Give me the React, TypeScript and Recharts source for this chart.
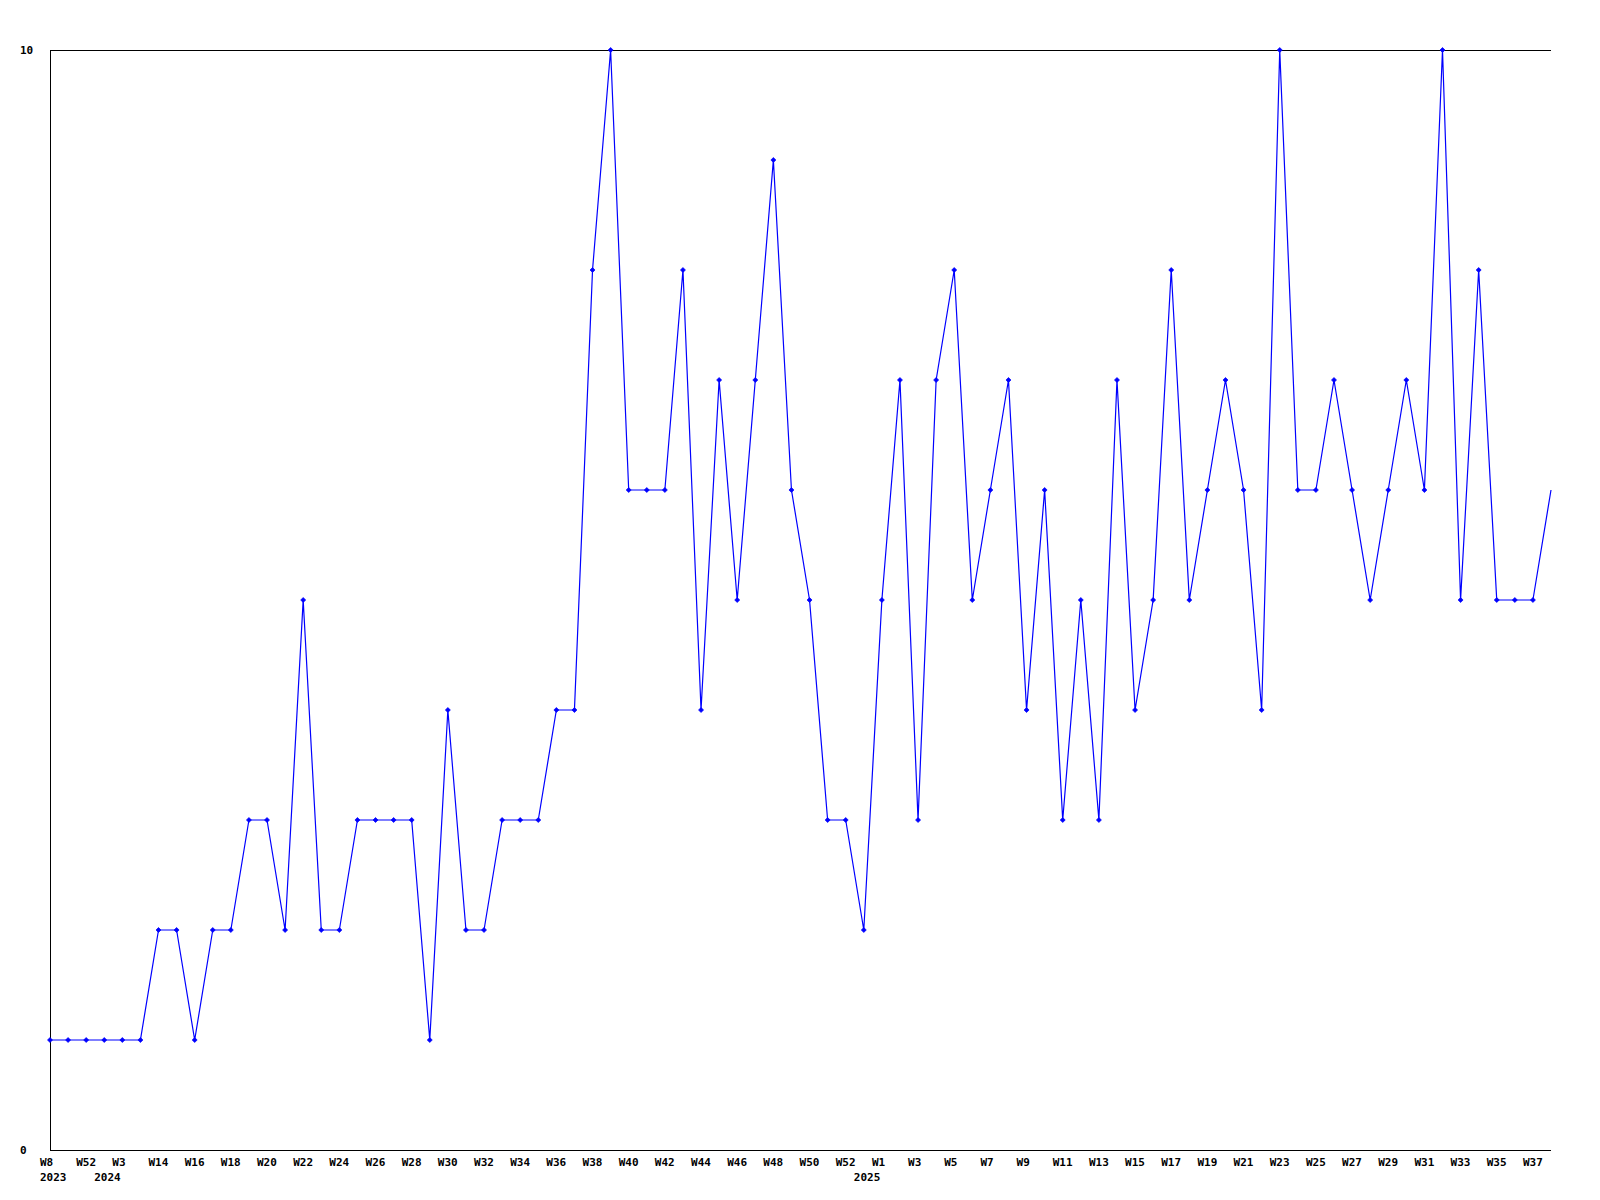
import React from "react";
import { LineChart, Line, XAxis, YAxis, ReferenceLine } from "recharts";

// Week labels for every point (only even positions are printed on the axis)
const weeks: string[] = [
  "W8", "W51", "W52", "W2", "W3", "W13", "W14", "W15", "W16", "W17",
  "W18", "W19", "W20", "W21", "W22", "W23", "W24", "W25", "W26", "W27",
  "W28", "W29", "W30", "W31", "W32", "W33", "W34", "W35", "W36", "W37",
  "W38", "W39", "W40", "W41", "W42", "W43", "W44", "W45", "W46", "W47",
  "W48", "W49", "W50", "W51", "W52", "W1", "W1", "W2", "W3", "W4",
  "W5", "W6", "W7", "W8", "W9", "W10", "W11", "W12", "W13", "W14",
  "W15", "W16", "W17", "W18", "W19", "W20", "W21", "W22", "W23", "W24",
  "W25", "W26", "W27", "W28", "W29", "W30", "W31", "W32", "W33", "W34",
  "W35", "W36", "W37", "W38",
];

// Year captions, printed under the point where the year starts
const years: { index: number; label: string }[] = [
  { index: 0, label: "2023" },
  { index: 3, label: "2024" },
  { index: 45, label: "2025" },
];

const values: number[] = [
  1, 1, 1, 1, 1, 1, 2, 2, 1, 2,
  2, 3, 3, 2, 5, 2, 2, 3, 3, 3,
  3, 1, 4, 2, 2, 3, 3, 3, 4, 4,
  8, 10, 6, 6, 6, 8, 4, 7, 5, 7,
  9, 6, 5, 3, 3, 2, 5, 7, 3, 7,
  8, 5, 6, 7, 4, 6, 3, 5, 3, 7,
  4, 5, 8, 5, 6, 7, 6, 4, 10, 6,
  6, 7, 6, 5, 6, 7, 6, 10, 5, 8,
  5, 5, 5, 6,
];

const yTicks: number[] = [0, 10];

const data = values.map((v, i) => ({ i, week: weeks[i], value: v }));
const xTicks = data.map((d) => d.i);

const FONT = "'DejaVu Sans Mono', monospace";

const XTick = (props: any) => {
  const { x, y, payload } = props;
  const idx = payload.value as number;
  const yr = years.find((yy) => yy.index === idx);
  return (
    <g>
      {idx % 2 === 0 && (
        <text x={x - 10} y={y + 8} textAnchor="start" fontFamily={FONT} fontSize={11} fontWeight="bold" fill="#000">
          {weeks[idx]}
        </text>
      )}
      {yr && (
        <text x={x - 10} y={y + 23} textAnchor="start" fontFamily={FONT} fontSize={11} fontWeight="bold" fill="#000">
          {yr.label}
        </text>
      )}
    </g>
  );
};

const YTick = (props: any) => {
  const { payload, y } = props;
  return (
    <text x={20} y={y + 4} textAnchor="start" fontFamily={FONT} fontSize={11} fontWeight="bold" fill="#000">
      {payload.value}
    </text>
  );
};

const Marker = (props: any) => {
  const { cx, cy, index } = props;
  if (index === values.length - 1) return <g key={index} />;
  const r = 2.5;
  return (
    <polygon
      key={index}
      points={`${cx},${cy - r} ${cx + r},${cy} ${cx},${cy + r} ${cx - r},${cy}`}
      fill="#0000ff"
      stroke="#0000ff"
      strokeWidth={0.7}
    />
  );
};

export default function App() {
  return (
    <div style={{ position: "absolute", left: 0, top: 0, width: 1600, height: 1200, background: "#fff" }}>
      <LineChart
        width={1600}
        height={1200}
        data={data}
        margin={{ top: 50, right: 49, bottom: 0, left: 0 }}
      >
        <XAxis
          dataKey="i"
          type="number"
          domain={[0, values.length - 1]}
          ticks={xTicks}
          interval={0}
          height={50}
          tickLine={false}
          axisLine={{ stroke: "#000", strokeWidth: 1, shapeRendering: "crispEdges" }}
          tick={<XTick />}
        />
        <YAxis
          type="number"
          domain={[0, 10]}
          ticks={yTicks}
          width={50}
          tickLine={false}
          axisLine={{ stroke: "#000", strokeWidth: 1, shapeRendering: "crispEdges" }}
          tick={<YTick />}
        />
        <ReferenceLine y={10} stroke="#000" strokeWidth={1} shapeRendering="crispEdges" />
        <Line
          type="linear"
          dataKey="value"
          stroke="#0000ff"
          strokeWidth={1.2}
          dot={<Marker />}
          activeDot={false}
          isAnimationActive={false}
        />
      </LineChart>
    </div>
  );
}
